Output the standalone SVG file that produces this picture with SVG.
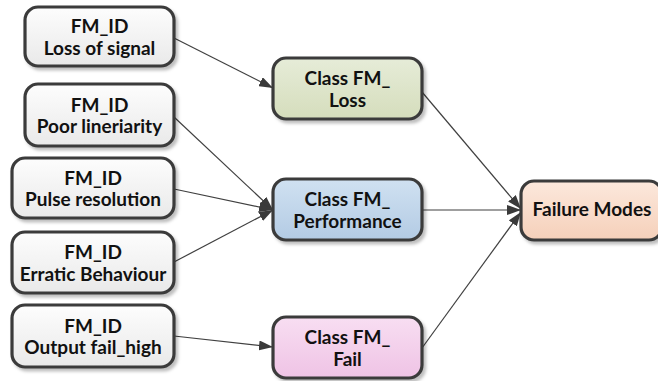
<svg xmlns="http://www.w3.org/2000/svg" width="658" height="381" viewBox="0 0 658 381">
  <defs>
    <linearGradient id="gGray" x1="0" y1="0" x2="0" y2="1">
      <stop offset="0" stop-color="#fdfdfd"/>
      <stop offset="1" stop-color="#e9e9e9"/>
    </linearGradient>
    <linearGradient id="gGreen" x1="0" y1="0" x2="0" y2="1">
      <stop offset="0" stop-color="#e6ecd8"/>
      <stop offset="1" stop-color="#d5ddbc"/>
    </linearGradient>
    <linearGradient id="gBlue" x1="0" y1="0" x2="0" y2="1">
      <stop offset="0" stop-color="#d0e1f1"/>
      <stop offset="1" stop-color="#b3cbe4"/>
    </linearGradient>
    <linearGradient id="gPink" x1="0" y1="0" x2="0" y2="1">
      <stop offset="0" stop-color="#f8def2"/>
      <stop offset="1" stop-color="#efc3e5"/>
    </linearGradient>
    <linearGradient id="gPeach" x1="0" y1="0" x2="0" y2="1">
      <stop offset="0" stop-color="#fce8dc"/>
      <stop offset="1" stop-color="#f5d0ba"/>
    </linearGradient>
    <filter id="shadow" x="-10%" y="-10%" width="125%" height="130%">
      <feDropShadow dx="2.5" dy="3" stdDeviation="1.5" flood-color="#000" flood-opacity="0.25"/>
    </filter>
    <marker id="arrow" viewBox="0 0 14 10" refX="14" refY="5" markerWidth="14" markerHeight="10" markerUnits="userSpaceOnUse" orient="auto">
      <path d="M0,0 L14,5 L0,10 Z" fill="#3a3a3a"/>
    </marker>
  </defs>
  <style>
    .box { stroke: #3a3a3a; stroke-width: 3.2; filter: url(#shadow); }
    .lbl { font-family: Lato, "Open Sans", "Liberation Sans", sans-serif; font-weight: 700; font-size: 19px; fill: #111; text-anchor: middle; }
    .edge { stroke: #404040; stroke-width: 1.2; fill: none; marker-end: url(#arrow); }
  </style>

  <rect width="658" height="381" fill="#ffffff"/>

  <!-- connectors -->
  <g id="connectors">
    <line class="edge" x1="174" y1="38" x2="273" y2="88"/>
    <line class="edge" x1="174" y1="117" x2="273" y2="210"/>
    <line class="edge" x1="174" y1="189" x2="273" y2="210"/>
    <line class="edge" x1="174" y1="262" x2="273" y2="210"/>
    <line class="edge" x1="174" y1="336" x2="273" y2="347"/>
    <line class="edge" x1="422" y1="92" x2="521" y2="209"/>
    <line class="edge" x1="422" y1="210" x2="521" y2="210"/>
    <line class="edge" x1="422" y1="348" x2="521" y2="212"/>
  </g>

  <!-- source nodes -->
  <g id="fm-loss-of-signal">
    <rect class="box" x="25" y="7" width="149" height="59" rx="13" fill="url(#gGray)"/>
    <text class="lbl" x="99.5" y="33">FM_ID</text>
    <text class="lbl" x="99.5" y="54.5">Loss of signal</text>
  </g>
  <g id="fm-poor-linearity">
    <rect class="box" x="25" y="84" width="149" height="62" rx="13" fill="url(#gGray)"/>
    <text class="lbl" x="99.5" y="111.5">FM_ID</text>
    <text class="lbl" x="99.5" y="133">Poor lineriarity</text>
  </g>
  <g id="fm-pulse-resolution">
    <rect class="box" x="12" y="158" width="162" height="60" rx="13" fill="url(#gGray)"/>
    <text class="lbl" x="93" y="184.5">FM_ID</text>
    <text class="lbl" x="93" y="206">Pulse resolution</text>
  </g>
  <g id="fm-erratic-behaviour">
    <rect class="box" x="12" y="232" width="162" height="61" rx="13" fill="url(#gGray)"/>
    <text class="lbl" x="93" y="259">FM_ID</text>
    <text class="lbl" x="93" y="280.5">Erratic Behaviour</text>
  </g>
  <g id="fm-output-fail-high">
    <rect class="box" x="12" y="305" width="162" height="62" rx="13" fill="url(#gGray)"/>
    <text class="lbl" x="93" y="332.5">FM_ID</text>
    <text class="lbl" x="93" y="354">Output fail_high</text>
  </g>

  <!-- class nodes -->
  <g id="class-loss">
    <rect class="box" x="273" y="58" width="149" height="61" rx="13" fill="url(#gGreen)"/>
    <text class="lbl" x="347.5" y="85">Class FM_</text>
    <text class="lbl" x="347.5" y="107">Loss</text>
  </g>
  <g id="class-performance">
    <rect class="box" x="273" y="179" width="149" height="61" rx="13" fill="url(#gBlue)"/>
    <text class="lbl" x="347.5" y="206">Class FM_</text>
    <text class="lbl" x="347.5" y="228">Performance</text>
  </g>
  <g id="class-fail">
    <rect class="box" x="273" y="317" width="149" height="61" rx="13" fill="url(#gPink)"/>
    <text class="lbl" x="347.5" y="344">Class FM_</text>
    <text class="lbl" x="347.5" y="366">Fail</text>
  </g>

  <!-- target node -->
  <g id="failure-modes">
    <rect class="box" x="521" y="181" width="141" height="59" rx="13" fill="url(#gPeach)"/>
    <text class="lbl" x="592" y="216">Failure Modes</text>
  </g>
</svg>
